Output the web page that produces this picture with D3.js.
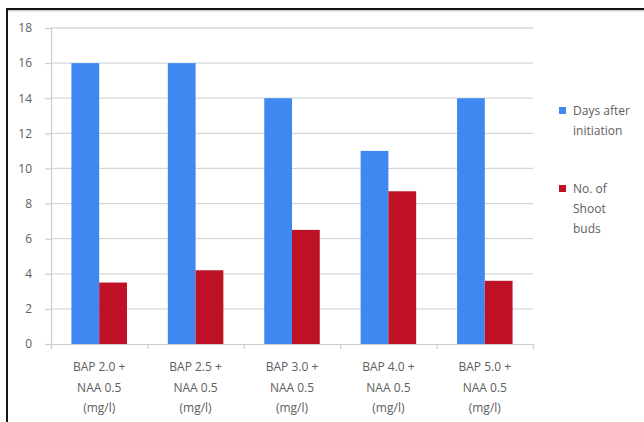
<!DOCTYPE html>
<html>
<head>
<meta charset="utf-8">
<script src="https://cdn.jsdelivr.net/npm/d3@7"></script>
<style>
  html, body { margin: 0; padding: 0; background: #fff; }
  svg { display: block; }
  text { font-family: "Open Sans", Lato, sans-serif; fill: #5e5e5e; }
</style>
</head>
<body>
<svg id="chart" width="644" height="422"></svg>
<script>
// Treatments (each label split over three lines)
const categories = [
  ["BAP 2.0 +", "NAA 0.5", "(mg/l)"],
  ["BAP 2.5 +", "NAA 0.5", "(mg/l)"],
  ["BAP 3.0 +", "NAA 0.5", "(mg/l)"],
  ["BAP 4.0 +", "NAA 0.5", "(mg/l)"],
  ["BAP 5.0 +", "NAA 0.5", "(mg/l)"]
];
const seriesNames = ["Days after initiation", "No. of Shoot buds"];
const legendLines = [["Days after", "initiation"], ["No. of", "Shoot", "buds"]];
const daysAfterInitiation = [16, 16, 14, 11, 14];
const shootBuds = [3.5, 4.2, 6.5, 8.7, 3.6];
const yTicks = [0, 2, 4, 6, 8, 10, 12, 14, 16, 18];
const colors = ["#4088f1", "#be1126"];

const svg = d3.select("#chart");
const margin = { left: 51, right: 111, top: 28, bottom: 78 };
const W = 644, H = 422;
const plotW = W - margin.left - margin.right;
const plotH = H - margin.top - margin.bottom;

// Outer frame
svg.append("rect")
  .attr("x", 7).attr("y", 9)
  .attr("width", 700).attr("height", 500)
  .attr("fill", "none").attr("stroke", "#151515").attr("stroke-width", 2);
svg.append("line")
  .attr("x1", 8).attr("x2", 644).attr("y1", 10.8).attr("y2", 10.8)
  .attr("stroke", "#9aa8a4").attr("stroke-width", 0.8);

const g = svg.append("g").attr("transform", `translate(${margin.left},${margin.top})`);

const idx = d3.range(categories.length);
const x0 = d3.scaleBand().domain(idx).range([0, plotW])
  .paddingInner(0.424).paddingOuter(0.212);
const x1 = d3.scaleBand().domain([0, 1]).range([0, x0.bandwidth()]);
const y = d3.scaleLinear().domain([0, 18]).range([plotH, 0]);

// Horizontal gridlines
g.append("g").selectAll("line").data(yTicks.filter(d => d > 0)).join("line")
  .attr("x1", 0).attr("x2", plotW)
  .attr("y1", d => y(d)).attr("y2", d => y(d))
  .attr("stroke", "#d3d8d7").attr("stroke-width", 1.3);

// Y axis
const yAxis = g.append("g").call(
  d3.axisLeft(y).tickValues(yTicks).tickSize(6).tickPadding(13)
);
yAxis.select(".domain").attr("stroke", "#c9cfcd").attr("stroke-width", 1.2);
yAxis.selectAll(".tick line").attr("stroke", "#c9cfcd").attr("stroke-width", 1.2);
yAxis.selectAll(".tick text")
  .attr("font-size", 12).attr("fill", "#5e5e5e")
  .style("font-family", "'Open Sans', sans-serif");

// Bars
const data = idx.map(i => [daysAfterInitiation[i], shootBuds[i]]);
const groups = g.append("g").selectAll("g").data(data).join("g")
  .attr("transform", (d, i) => `translate(${x0(i)},0)`);
groups.selectAll("rect").data(d => d.map((v, s) => ({ v, s }))).join("rect")
  .attr("x", d => x1(d.s))
  .attr("width", x1.bandwidth())
  .attr("y", d => y(d.v))
  .attr("height", d => y(0) - y(d.v))
  .attr("fill", d => colors[d.s]);

// X axis with category boundary ticks
const xb = d3.scaleLinear().domain([0, categories.length]).range([0, plotW]);
const xAxis = g.append("g").attr("transform", `translate(0,${plotH})`)
  .call(d3.axisBottom(xb).ticks(categories.length).tickSize(5).tickFormat(""));
xAxis.select(".domain").attr("stroke", "#c9cfcd").attr("stroke-width", 1.2);
xAxis.selectAll(".tick line").attr("stroke", "#c9cfcd").attr("stroke-width", 1.2);

// Category labels
const labels = g.append("g").selectAll("text").data(categories).join("text")
  .attr("text-anchor", "middle")
  .attr("font-size", 12)
  .attr("x", (d, i) => x0(i) + x0.bandwidth() / 2)
  .attr("y", plotH + 27);
labels.selectAll("tspan").data(d => d).join("tspan")
  .attr("x", function () { return this.parentNode.getAttribute("x"); })
  .attr("dy", (d, i) => i === 0 ? 0 : 20.5)
  .text(d => d);

// Legend
const legend = svg.append("g");
const legendY = [107, 185];
seriesNames.forEach((name, s) => {
  const lg = legend.append("g").attr("transform", `translate(559,${legendY[s]})`);
  lg.append("rect").attr("width", 7).attr("height", 7).attr("fill", colors[s]);
  const t = lg.append("text").attr("x", 14).attr("y", 8).attr("font-size", 12);
  t.selectAll("tspan").data(legendLines[s]).join("tspan")
    .attr("x", 14).attr("dy", (d, i) => i === 0 ? 0 : 20)
    .text(d => d);
});
</script>
</body>
</html>
